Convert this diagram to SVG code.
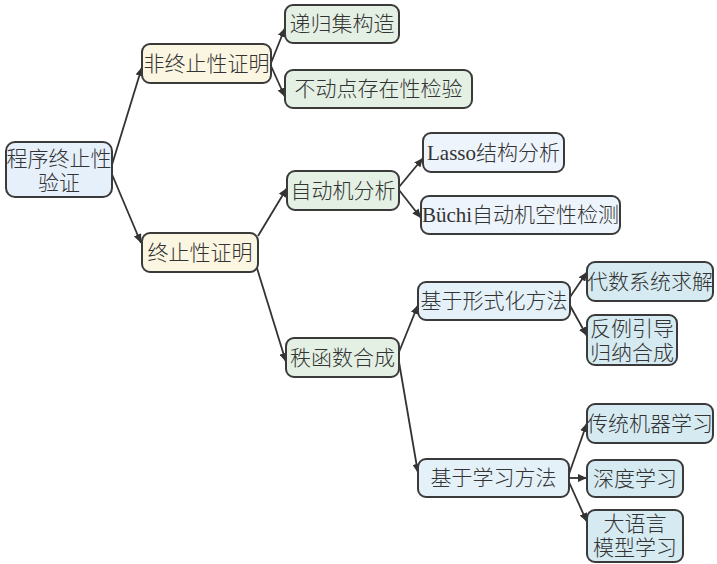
<svg xmlns="http://www.w3.org/2000/svg" width="717" height="564" viewBox="0 0 717 564">
<defs>
<marker id="arr" markerUnits="userSpaceOnUse" markerWidth="9" markerHeight="8" refX="9" refY="4" orient="auto">
<path d="M0,0 L9,4 L0,8 z" fill="#333"/>
</marker>
<style>
.box{stroke:#3a3a3a;stroke-width:2}
.t{font-family:"Liberation Serif","Noto Sans CJK SC",serif;font-size:21px;font-weight:300;fill:#333;text-anchor:middle;dominant-baseline:central}
.e{stroke:#333;stroke-width:1.8;fill:none;marker-end:url(#arr)}
.root{fill:#e6f0fa}
.l1{fill:#fbf6e2}
.l2{fill:#e3f0e3}
.l3{fill:#eef4fb}
.l4{fill:#e4f1f8}
.l5{fill:#d6eaf1}
</style>
</defs>
<rect width="717" height="564" fill="#fff"/>
<g id="connectors">
<line class="e" x1="111" y1="168" x2="142" y2="67"/>
<line class="e" x1="111" y1="172" x2="141" y2="243"/>
<line class="e" x1="271" y1="63" x2="285" y2="28"/>
<line class="e" x1="271" y1="66" x2="285" y2="97"/>
<line class="e" x1="258" y1="236" x2="287" y2="188"/>
<line class="e" x1="256" y1="265" x2="286" y2="362"/>
<line class="e" x1="399" y1="187" x2="423" y2="158"/>
<line class="e" x1="399" y1="190" x2="421" y2="218"/>
<line class="e" x1="399" y1="352" x2="418" y2="305"/>
<line class="e" x1="399" y1="362" x2="418" y2="473"/>
<line class="e" x1="568" y1="300" x2="587" y2="272"/>
<line class="e" x1="568" y1="302" x2="587" y2="336"/>
<line class="e" x1="569" y1="474" x2="587" y2="423"/>
<line class="e" x1="569" y1="478" x2="587" y2="478"/>
<line class="e" x1="569" y1="482" x2="587" y2="522"/>
</g>
<g id="n_root"><rect class="box root" x="6" y="142" width="106" height="55" rx="9"/><text class="t" x="59" y="159">程序终止性</text><text class="t" x="59" y="183">验证</text></g>
<g id="n_nonterm"><rect class="box l1" x="142" y="44" width="129" height="39" rx="8"/><text class="t" x="206.5" y="63.5">非终止性证明</text></g>
<g id="n_term"><rect class="box l1" x="142" y="233" width="116" height="39" rx="8"/><text class="t" x="200" y="252.5">终止性证明</text></g>
<g id="n_recset"><rect class="box l2" x="285" y="5" width="114" height="38" rx="8"/><text class="t" x="342" y="24">递归集构造</text></g>
<g id="n_fixpoint"><rect class="box l2" x="285" y="70" width="187" height="38" rx="8"/><text class="t" x="378.5" y="89">不动点存在性检验</text></g>
<g id="n_automata"><rect class="box l2" x="287" y="171" width="112" height="39" rx="8"/><text class="t" x="343" y="190.5">自动机分析</text></g>
<g id="n_rank"><rect class="box l2" x="286" y="338" width="113" height="39" rx="8"/><text class="t" x="342.5" y="357.5">秩函数合成</text></g>
<g id="n_lasso"><rect class="box l3" x="423" y="133" width="141" height="39" rx="8"/><text class="t" x="493.5" y="152.5">Lasso结构分析</text></g>
<g id="n_buchi"><rect class="box l3" x="421" y="196" width="199" height="38" rx="8"/><text class="t" x="520.5" y="215">Büchi自动机空性检测</text></g>
<g id="n_formal"><rect class="box l4" x="418" y="282" width="152" height="38" rx="8"/><text class="t" x="494" y="301">基于形式化方法</text></g>
<g id="n_learn"><rect class="box l4" x="418" y="459" width="151" height="38" rx="8"/><text class="t" x="493.5" y="478">基于学习方法</text></g>
<g id="n_algebra"><rect class="box l5" x="587" y="262" width="126" height="39" rx="8"/><text class="t" x="650" y="281.5">代数系统求解</text></g>
<g id="n_cegis"><rect class="box l5" x="587" y="315" width="90" height="50" rx="8"/><text class="t" x="632" y="328.5">反例引导</text><text class="t" x="632" y="352.5">归纳合成</text></g>
<g id="n_trad"><rect class="box l5" x="587" y="404" width="126" height="39" rx="8"/><text class="t" x="650" y="423.5">传统机器学习</text></g>
<g id="n_deep"><rect class="box l5" x="587" y="460" width="96" height="37" rx="8"/><text class="t" x="635" y="478.5">深度学习</text></g>
<g id="n_llm"><rect class="box l5" x="587" y="510" width="96" height="52" rx="8"/><text class="t" x="635" y="524">大语言</text><text class="t" x="635" y="548">模型学习</text></g>
</svg>
